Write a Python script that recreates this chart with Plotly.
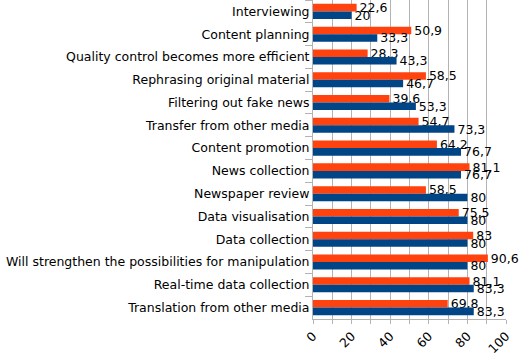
import plotly.graph_objects as go

categories = ["Interviewing", "Content planning", "Quality control becomes more efficient",
              "Rephrasing original material", "Filtering out fake news", "Transfer from other media",
              "Content promotion", "News collection", "Newspaper review", "Data visualisation",
              "Data collection", "Will strengthen the possibilities for manipulation",
              "Real-time data collection", "Translation from other media"]
orange_vals = [22.6, 50.9, 28.3, 58.5, 39.6, 54.7, 64.2, 81.1, 58.5, 75.5, 83, 90.6, 81.1, 69.8]
blue_vals = [20, 33.3, 43.3, 46.7, 53.3, 73.3, 76.7, 76.7, 80, 80, 80, 80, 83.3, 83.3]

def fmt(v):
    return ("%g" % v).replace(".", ",")

font = "DejaVu Sans, sans-serif"
fig = go.Figure()
for vals, col in [(orange_vals, "#FF420E"), (blue_vals, "#004586")]:
    fig.add_trace(go.Bar(y=categories, x=vals, orientation="h", marker=dict(color=col, line=dict(width=0)),
                         text=[fmt(v) for v in vals], textposition="outside", constraintext="none",
                         textfont=dict(size=12.5, color="black", family=font), cliponaxis=False))
fig.update_layout(
    width=522, height=356, margin=dict(l=313, r=16, t=0, b=32),
    barmode="group", bargap=0.34, bargroupgap=0,
    plot_bgcolor="white", paper_bgcolor="white", showlegend=False,
    font=dict(family=font, size=12, color="black"),
)
fig.update_xaxes(range=[0, 100], dtick=20, tickangle=-45, showgrid=True, gridcolor="#b3b3b3",
                 gridwidth=1, showline=True, linecolor="#b3b3b3", ticks="outside", ticklen=4,
                 tickcolor="#b3b3b3", zeroline=False, tickfont=dict(size=12.5),
                 minor=dict(dtick=10, showgrid=True, gridcolor="#b3b3b3", ticks="outside",
                            ticklen=4, tickcolor="#b3b3b3"))
fig.update_yaxes(autorange="reversed", showline=True, linecolor="#b3b3b3", ticks="outside",
                 tickson="boundaries", ticklen=7, tickcolor="#b3b3b3", tickfont=dict(size=12.5),
                 showgrid=False)
fig.write_html("out.html")
